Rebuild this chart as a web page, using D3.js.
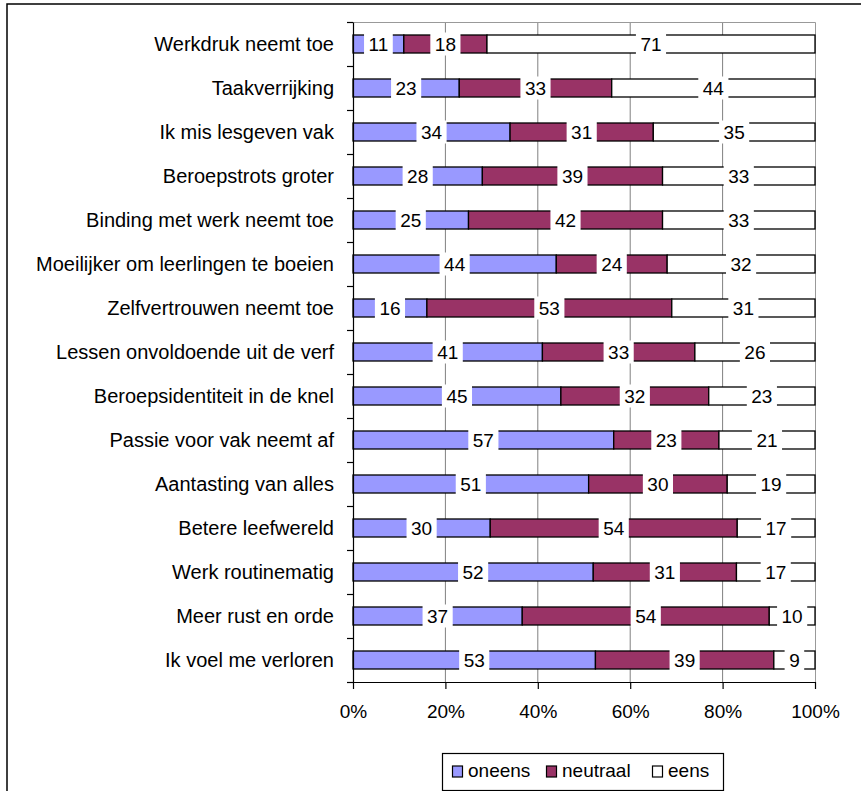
<!DOCTYPE html>
<html>
<head>
<meta charset="utf-8">
<script src="https://cdn.jsdelivr.net/npm/d3@7"></script>
<style>
  html, body { margin: 0; padding: 0; background: #fff; }
  svg { display: block; }
  text { font-family: "Liberation Sans", Arial, sans-serif; fill: #000; }
</style>
</head>
<body>
<svg id="chart" width="861" height="791"></svg>
<script>
const categories = ["Werkdruk neemt toe", "Taakverrijking", "Ik mis lesgeven vak", "Beroepstrots groter",
  "Binding met werk neemt toe", "Moeilijker om leerlingen te boeien", "Zelfvertrouwen neemt toe",
  "Lessen onvoldoende uit de verf", "Beroepsidentiteit in de knel", "Passie voor vak neemt af",
  "Aantasting van alles", "Betere leefwereld", "Werk routinematig", "Meer rust en orde", "Ik voel me verloren"];
const oneens   = [11, 23, 34, 28, 25, 44, 16, 41, 45, 57, 51, 30, 52, 37, 53];
const neutraal = [18, 33, 31, 39, 42, 24, 53, 33, 32, 23, 30, 54, 31, 54, 39];
const eens     = [71, 44, 35, 33, 33, 32, 31, 26, 23, 21, 19, 17, 17, 10, 9];
const seriesNames = ["oneens", "neutraal", "eens"];
const xTicks = [0, 0.2, 0.4, 0.6, 0.8, 1];

const colors = { oneens: "#9999FF", neutraal: "#993366", eens: "#FFFFFF" };

const rows = categories.map((c, i) => ({ cat: c, oneens: oneens[i], neutraal: neutraal[i], eens: eens[i] }));
const stacked = d3.stack().keys(seriesNames).offset(d3.stackOffsetExpand)(rows);

const svg = d3.select("#chart");
const pLeft = 353, pRight = 815, pTop = 22, pBottom = 682;
const FS = 19;

// outer frame
svg.append("rect").attr("x", 7).attr("y", 4).attr("width", 870).attr("height", 800)
  .attr("fill", "none").attr("stroke", "#000").attr("stroke-width", 1.5);

const x = d3.scaleLinear().domain([0, 1]).range([pLeft, pRight]);
const y = d3.scaleBand().domain(categories).range([pTop, pBottom]).paddingInner(0.57).paddingOuter(0.285);
const yLin = d3.scaleLinear().domain([0, categories.length]).range([pTop, pBottom]);

// gridlines
svg.append("g").selectAll("line").data(xTicks.slice(1, -1)).join("line")
  .attr("x1", d => x(d)).attr("x2", d => x(d)).attr("y1", pTop).attr("y2", pBottom)
  .attr("stroke", "#808080").attr("stroke-width", 1);
// plot border top/right
svg.append("path").attr("d", `M${pLeft},${pTop + 0.5}H${pRight + 0.5}V${pBottom}`)
  .attr("fill", "none").attr("stroke", "#999").attr("stroke-width", 1);

// bars
const bandCenter = c => y(c) + y.bandwidth() / 2;
const barH = 18;
stacked.forEach(s => {
  svg.append("g").selectAll("rect").data(s).join("rect")
    .attr("x", d => x(d[0])).attr("width", d => x(d[1]) - x(d[0]))
    .attr("y", d => bandCenter(d.data.cat) - barH / 2).attr("height", barH)
    .attr("fill", colors[s.key]).attr("stroke", "#000").attr("stroke-width", 1.3);
});

// axes
const yAx = svg.append("g").attr("transform", `translate(${pLeft},0)`)
  .call(d3.axisLeft(yLin).tickValues(d3.range(categories.length + 1)).tickSize(6).tickSizeOuter(0).tickFormat(""));
yAx.selectAll("line,path").attr("stroke", "#000").attr("stroke-width", 1.2);

const xAx = svg.append("g").attr("transform", `translate(0,${pBottom})`)
  .call(d3.axisBottom(x).tickValues(xTicks).tickFormat(d3.format(".0%")).tickSize(7).tickSizeOuter(0).tickPadding(16));
xAx.selectAll("line,path").attr("stroke", "#000").attr("stroke-width", 1.2);
xAx.selectAll("text").attr("font-size", FS).attr("font-family", "Liberation Sans, Arial, sans-serif").attr("fill", "#000");

// category labels
svg.append("g").selectAll("text").data(categories).join("text")
  .attr("x", 334).attr("y", d => bandCenter(d)).attr("dy", "0.36em")
  .attr("text-anchor", "end").attr("font-size", 20).text(d => d);

// data labels
const labG = svg.append("g");
stacked.forEach(s => {
  s.forEach(d => {
    const cx = (x(d[0]) + x(d[1])) / 2, cy = bandCenter(d.data.cat);
    const g = labG.append("g");
    const t = g.append("text").attr("x", cx).attr("y", cy).attr("dy", "0.36em")
      .attr("text-anchor", "middle").attr("font-size", FS).text(d.data[s.key]);
    const w = t.node().getComputedTextLength();
    g.insert("rect", "text").attr("x", cx - w / 2 - 4.5).attr("y", cy - 11.5)
      .attr("width", w + 9).attr("height", 23).attr("fill", "#fff");
  });
});

// legend
const lg = svg.append("g");
lg.append("rect").attr("x", 442.5).attr("y", 753.5).attr("width", 281).attr("height", 37)
  .attr("fill", "#fff").attr("stroke", "#000").attr("stroke-width", 1.2);
const legX = [452, 546, 652];
seriesNames.forEach((k, i) => {
  lg.append("rect").attr("x", legX[i] + 0.5).attr("y", 766).attr("width", 10).attr("height", 11)
    .attr("fill", colors[k]).attr("stroke", "#000").attr("stroke-width", 1.2);
  lg.append("text").attr("x", legX[i] + 16).attr("y", 776.5).attr("font-size", FS).text(k);
});
</script>
</body>
</html>
